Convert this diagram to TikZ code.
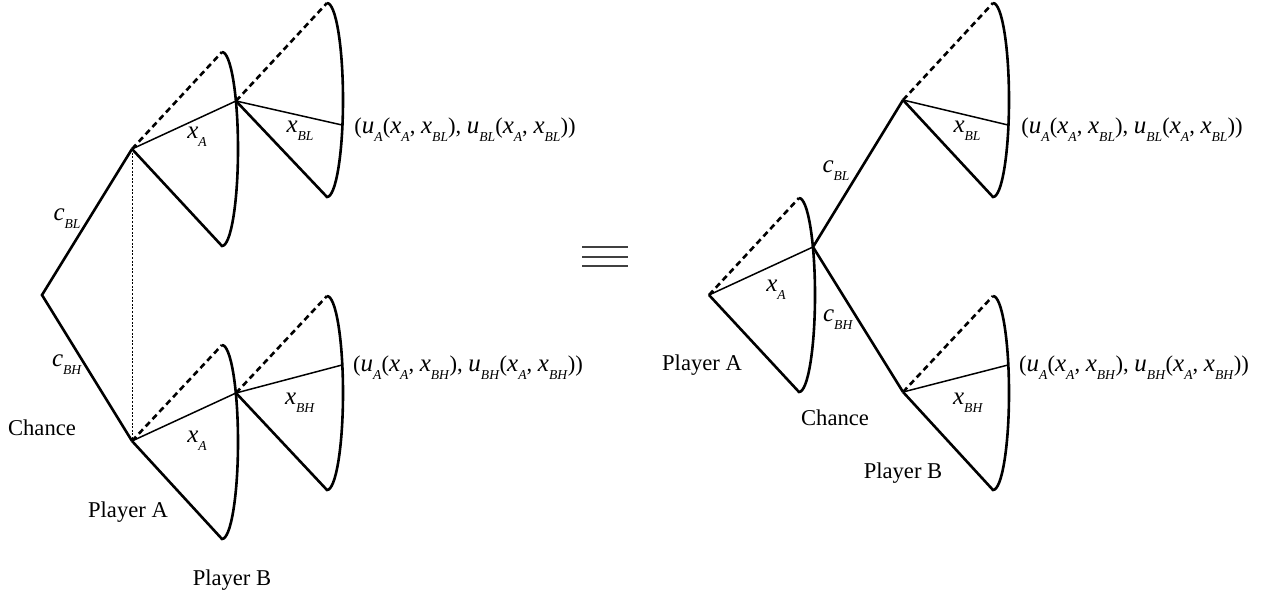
\documentclass[tikz,border=0pt]{standalone}
\usepackage{fontspec}
\setmainfont{Liberation Serif}
\usetikzlibrary{calc}

% italic letter with a low italic subscript
\newcommand{\vsub}[2]{{\fontsize{12.5}{14}\selectfont\textit{#1}}\raisebox{-0.75ex}{\fontsize{6.8}{8}\selectfont\textit{#2}}}

\tikzset{
  branch/.style={line width=1.3pt},
  choice/.style={line width=0.75pt},
  hidden/.style={line width=1.3pt,dash pattern=on 3pt off 2pt},
  infoset/.style={line width=0.5pt,dash pattern=on 1pt off 0.8pt},
  lbl/.style={font=\fontsize{11.3}{13}\selectfont,inner sep=0pt},
}

\begin{document}
\begin{tikzpicture}[x=0.5pt,y=-0.5pt]
  \useasboundingbox (0,0) rectangle (1261,599);

  % left tree: chance first
  \coordinate (chL) at (42,295);
  \coordinate (aBL) at (132,149);
  \coordinate (aBH) at (132,441);
  \coordinate (aBLtop) at (222,52);
  \coordinate (aBLbot) at (222,246);
  \coordinate (aBHtop) at (222,345);
  \coordinate (aBHbot) at (222,539);
  \coordinate (bBL) at (236,101);
  \coordinate (bBH) at (236,393);
  \coordinate (bBLtop) at (327,3);
  \coordinate (bBLbot) at (327,197);
  \coordinate (bBHtop) at (327,296);
  \coordinate (bBHbot) at (327,490);
  \coordinate (leafBL) at (342,125);
  \coordinate (leafBH) at (342,365);

  \draw[branch] (aBL) -- (chL) -- (aBH);
  \draw[infoset] (aBL) -- (aBH);
  \draw[hidden] (aBL) -- (aBLtop);
  \draw[hidden] (aBH) -- (aBHtop);
  \draw[branch] (aBL) -- (aBLbot) arc[start angle=-90,end angle=90,x radius=8pt,y radius=48.5pt];
  \draw[branch] (aBH) -- (aBHbot) arc[start angle=-90,end angle=90,x radius=8pt,y radius=48.5pt];
  \draw[choice] (aBL) -- (bBL);
  \draw[choice] (aBH) -- (bBH);
  \draw[hidden] (bBL) -- (bBLtop);
  \draw[hidden] (bBH) -- (bBHtop);
  \draw[branch] (bBL) -- (bBLbot) arc[start angle=-90,end angle=90,x radius=8pt,y radius=48.5pt];
  \draw[branch] (bBH) -- (bBHbot) arc[start angle=-90,end angle=90,x radius=8pt,y radius=48.5pt];
  \draw[choice] (bBL) -- (leafBL);
  \draw[choice] (bBH) -- (leafBH);

  \node[lbl] (cblL) at (67,219) {\vsub{c}{BL}};
  \node[lbl] (cbhL) at (67,365) {\vsub{c}{BH}};
  \node[lbl] (chanceL) at (42,428) {Chance};
  \node[lbl] (xaL1) at (197,137) {\vsub{x}{A}};
  \node[lbl] (xaL2) at (197,441) {\vsub{x}{A}};
  \node[lbl] (xblL) at (300,131) {\vsub{x}{BL}};
  \node[lbl] (xbhL) at (300,403) {\vsub{x}{BH}};
  \node[lbl] (plAL) at (128,512) {Player A};
  \node[lbl] (plBL) at (232,580) {Player B};
  \node[lbl] (payBL) at (465,130) {(\vsub{u}{A}(\vsub{x}{A}, \vsub{x}{BL}), \vsub{u}{BL}(\vsub{x}{A}, \vsub{x}{BL}))};
  \node[lbl] (payBH) at (468,368) {(\vsub{u}{A}(\vsub{x}{A}, \vsub{x}{BH}), \vsub{u}{BH}(\vsub{x}{A}, \vsub{x}{BH}))};

  % equivalence sign
  \foreach \yy in {247,257,266}
    \draw[line width=0.6pt,black!75] (582,\yy) -- (628,\yy);

  % right tree: player A first
  \coordinate (aR) at (709,295);
  \coordinate (aRtop) at (799,198);
  \coordinate (aRbot) at (799,392);
  \coordinate (chR) at (813,247);
  \coordinate (bBLR) at (903,100);
  \coordinate (bBHR) at (903,392);
  \coordinate (bBLRtop) at (993,3);
  \coordinate (bBLRbot) at (993,197);
  \coordinate (bBHRtop) at (993,296);
  \coordinate (bBHRbot) at (993,490);
  \coordinate (leafBLR) at (1008,125);
  \coordinate (leafBHR) at (1008,365);

  \draw[hidden] (aR) -- (aRtop);
  \draw[branch] (aR) -- (aRbot) arc[start angle=-90,end angle=90,x radius=8pt,y radius=48.5pt];
  \draw[choice] (aR) -- (chR);
  \draw[branch] (bBLR) -- (chR) -- (bBHR);
  \draw[hidden] (bBLR) -- (bBLRtop);
  \draw[hidden] (bBHR) -- (bBHRtop);
  \draw[branch] (bBLR) -- (bBLRbot) arc[start angle=-90,end angle=90,x radius=8pt,y radius=48.5pt];
  \draw[branch] (bBHR) -- (bBHRbot) arc[start angle=-90,end angle=90,x radius=8pt,y radius=48.5pt];
  \draw[choice] (bBLR) -- (leafBLR);
  \draw[choice] (bBHR) -- (leafBHR);

  \node[lbl] (cblR) at (836,171) {\vsub{c}{BL}};
  \node[lbl] (cbhR) at (838,320) {\vsub{c}{BH}};
  \node[lbl] (xaR) at (776,290) {\vsub{x}{A}};
  \node[lbl] (plAR) at (702,365) {Player A};
  \node[lbl] (chanceR) at (835,418) {Chance};
  \node[lbl] (xblR) at (967,131) {\vsub{x}{BL}};
  \node[lbl] (xbhR) at (968,403) {\vsub{x}{BH}};
  \node[lbl] (plBR) at (903,473) {Player B};
  \node[lbl] (payBLR) at (1132,130) {(\vsub{u}{A}(\vsub{x}{A}, \vsub{x}{BL}), \vsub{u}{BL}(\vsub{x}{A}, \vsub{x}{BL}))};
  \node[lbl] (payBHR) at (1134,368) {(\vsub{u}{A}(\vsub{x}{A}, \vsub{x}{BH}), \vsub{u}{BH}(\vsub{x}{A}, \vsub{x}{BH}))};
\end{tikzpicture}
\end{document}
